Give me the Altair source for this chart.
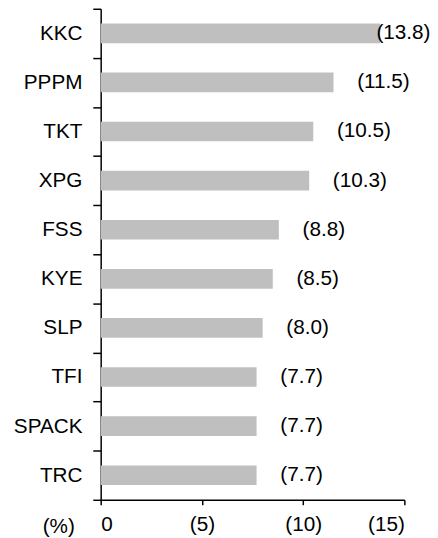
import altair as alt
import pandas as pd

categories = ["KKC", "PPPM", "TKT", "XPG", "FSS", "KYE", "SLP", "TFI", "SPACK", "TRC"]
values = [13.8, 11.5, 10.5, 10.3, 8.8, 8.5, 8.0, 7.7, 7.7, 7.7]
x_ticks = [0, 5, 10, 15]

df = pd.DataFrame({"company": categories, "value": values})

FONT = "Liberation Sans"
FS = 21

y_enc = alt.Y(
    "company:N",
    sort=categories,
    scale=alt.Scale(paddingInner=0, paddingOuter=0),
    axis=alt.Axis(
        title=None,
        tickBand="extent",
        tickSize=8,
        tickWidth=1.5,
        tickColor="black",
        domainColor="black",
        domainWidth=1.5,
        labelPadding=11,
        labelFont=FONT,
        labelFontSize=FS,
        labelColor="black",
    ),
)

bars = alt.Chart(df).mark_bar(color="#BFBFBF", height={"band": 0.4}).encode(
    x=alt.X(
        "value:Q",
        scale=alt.Scale(domain=[0, 15], nice=False, zero=True),
        axis=alt.Axis(
            values=x_ticks,
            title="(%)",
            titleFont=FONT,
            titleFontSize=FS,
            titleFontWeight="normal",
            titleColor="black",
            titleX=-43,
            titleY=16,
            titleAlign="center",
            titleBaseline="top",
            labelExpr="datum.value == 0 ? '0' : '(' + datum.value + ')'",
            labelFont=FONT,
            labelFontSize=FS,
            labelColor="black",
            labelPadding=9,
            tickSize=5,
            tickWidth=1.5,
            tickColor="black",
            domainColor="black",
            domainWidth=1.5,
            grid=False,
        ),
    ),
    y=y_enc,
)

labels = alt.Chart(df).transform_calculate(
    label="'(' + format(datum.value, '.1f') + ')'",
    pos="min(datum.value, 12.45)",
).mark_text(
    align="left", baseline="middle", dx=24, font=FONT, fontSize=FS, color="black"
).encode(
    x=alt.X("pos:Q"),
    y=alt.Y("company:N", sort=categories),
    text="label:N",
)

chart = (
    alt.layer(bars, labels)
    .properties(
        width=308,
        height=498,
        autosize=alt.AutoSizeParams(type="none"),
        padding={"left": 94, "top": -3, "right": 26, "bottom": 38},
    )
    .configure_view(stroke=None)
)

chart.save("out.html", embed_options={"renderer": "svg", "actions": False})
